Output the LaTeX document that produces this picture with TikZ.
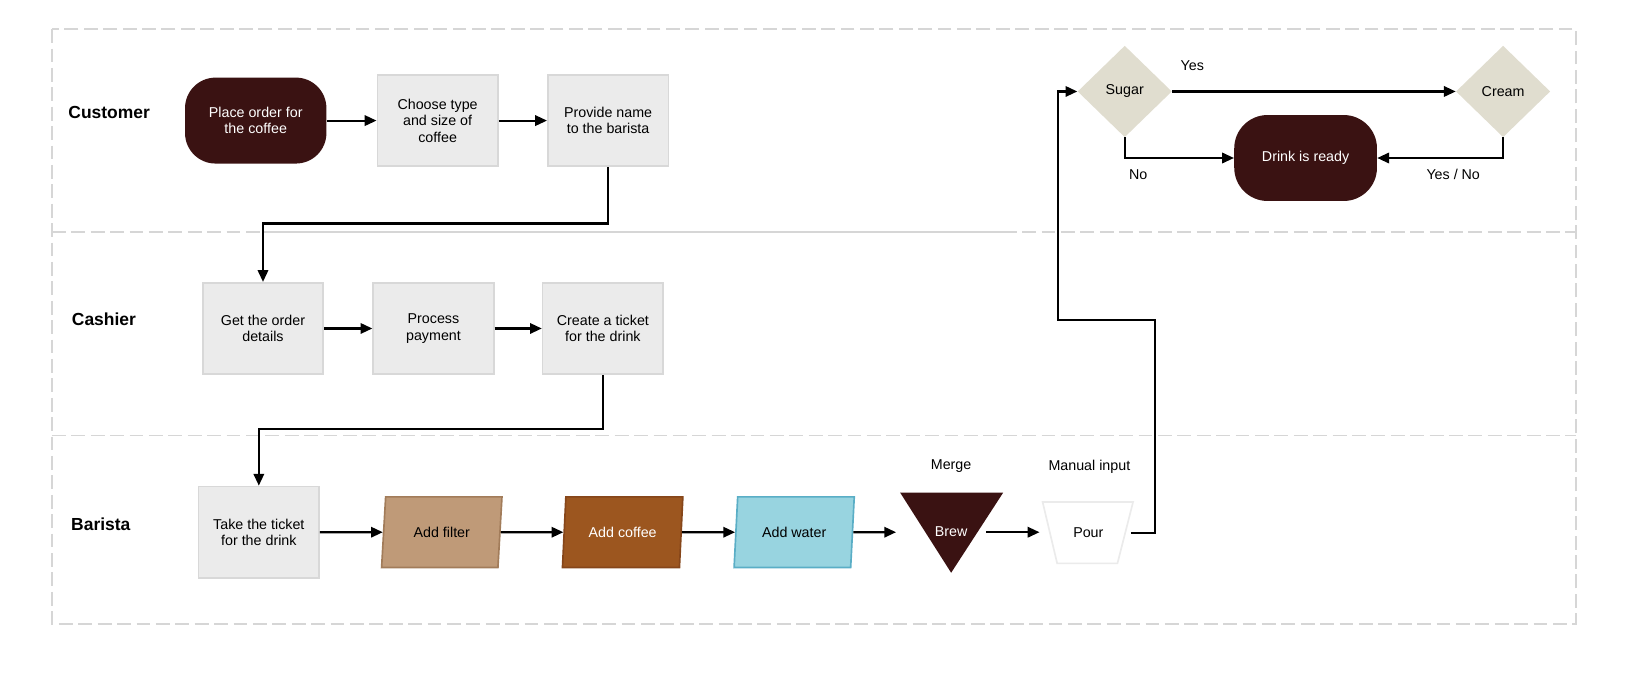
\documentclass[tikz,border=0pt]{standalone}
\usepackage{fontspec}
\setmainfont{Liberation Sans}
\usetikzlibrary{arrows.meta,shapes.geometric}
\definecolor{dark}{HTML}{3A1212}
\definecolor{boxf}{HTML}{EBEBEB}
\definecolor{boxd}{HTML}{D8D8D8}
\definecolor{lane}{HTML}{D6D6D6}
\definecolor{filt}{HTML}{BF9A78}
\definecolor{filtd}{HTML}{A27C5A}
\definecolor{cof}{HTML}{9C561F}
\definecolor{cofd}{HTML}{86461A}
\definecolor{wat}{HTML}{98D4E0}
\definecolor{watd}{HTML}{5AAEC6}
\definecolor{dia}{HTML}{E0DDCF}
\tikzset{
  x=0.75pt,y=-0.75pt,
  every node/.style={font=\fontsize{10.3}{12}\selectfont,align=center,inner sep=0pt},
  term/.style={fill=dark,text=white,rounded corners=22pt,minimum width=102pt,minimum height=62pt},
  proc/.style={fill=boxf,draw=boxd,line width=1.2pt,minimum width=87pt,minimum height=66pt},
  para/.style={trapezium,trapezium left angle=79,trapezium right angle=101,line width=1.2pt,minimum width=87pt,minimum height=51pt,trapezium stretches=true},
  dec/.style={diamond,fill=dia,minimum width=68pt,minimum height=66pt},
  lbl/.style={font=\fontsize{12.6}{14}\selectfont\bfseries},
  arr/.style={-{Triangle[length=8.5pt,width=7.5pt]},line width=1.5pt},
  lanel/.style={draw=lane,line width=1.3pt,dash pattern=on 10pt off 4pt}
}
\begin{document}
\begin{tikzpicture}
\useasboundingbox (0,0) rectangle (1570,649);
\draw[lanel] (50,28) rectangle (1516,600);
\draw[lanel] (50,223) -- (1516,223);
\draw[lanel] (50,419) -- (1516,419);
\draw[draw=lane,line width=1.3pt] (253,223) -- (975,223);
\node[lbl] (l1) at (105,108) {Customer};
\node[lbl] (l2) at (100,307) {Cashier};
\node[lbl] (l3) at (97,504) {Barista};
\node[term] (po) at (246,116) {Place order for\\the coffee};
\node[proc] (ct) at (421,116) {Choose type\\and size of\\coffee};
\node[proc] (pn) at (585,116) {Provide name\\to the barista};
\node[proc] (go) at (253,316) {Get the order\\details};
\node[proc] (pp) at (417,316) {Process\\payment};
\node[proc] (cr) at (580,316) {Create a ticket\\for the drink};
\node[proc] (tt) at (249,512) {Take the ticket\\for the drink};
\node[para,fill=filt,draw=filtd] (af) at (425,512) {Add filter};
\node[para,fill=cof,draw=cofd,text=white] (ac) at (599,512) {Add coffee};
\node[para,fill=wat,draw=watd] (aw) at (764,512) {Add water};
\fill[dark] (866,474) -- (965,474) -- (915,551) -- cycle;
\node[text=white] (br) at (915,511) {Brew};
\node (mg) at (915,448) {Merge};
\draw[draw=black!8,fill=white,line width=1.2pt] (1003,483) -- (1090,483) -- (1075,542) -- (1017,542) -- cycle;
\node (pr) at (1047,512) {Pour};
\coordinate (prr) at (1088,513);
\node (mi) at (1048,449) {Manual input};
\node[dec] (su) at (1082,88) {Sugar};
\node[dec] (cm) at (1446,88) {Cream};
\node[term,minimum width=103pt,rounded corners=24pt] (dr) at (1256,152) {Drink is ready};
\draw[arr] (po) -- (ct);
\draw[arr] (ct) -- (pn);
\draw[arr] (pn.south) |- (253,215) -- (go.north);
\draw[arr] (go) -- (pp);
\draw[arr] (pp) -- (cr);
\draw[arr] (cr.south) |- (249,413) -- (tt.north);
\draw[arr] (tt) -- (af);
\draw[arr] (af) -- (ac);
\draw[arr] (ac) -- (aw);
\draw[arr] (aw) -- (862,512);
\draw[arr] (949,512) -- (1000,512);
\draw[arr] (prr) -- (1111,513) -- (1111,308) -- (1018,308) -- (1018,88) -- (su.west);
\draw[arr] (su) -- (cm);
\node (y1) at (1147,63) {Yes};
\draw[arr] (su.south) |- (dr.west);
\node (n1) at (1095,168) {No};
\draw[arr] (cm.south) |- (dr.east);
\node (yn) at (1398,168) {Yes / No};
\end{tikzpicture}
\end{document}
